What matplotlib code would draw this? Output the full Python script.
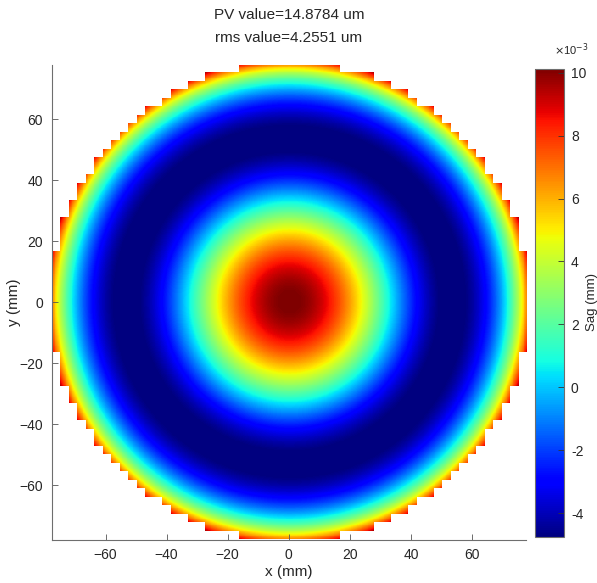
import numpy as np
import matplotlib.pyplot as plt

plt.rcParams['font.family'] = ['Liberation Sans', 'DejaVu Sans']

# radial sag profile (radius in mm, sag in mm)
radius_mm = [0.0, 6.7, 14.3, 20.5, 24.2, 28.7, 32.4, 36.2, 40.5, 46.0, 52.0,
             58.0, 64.6, 68.9, 71.7, 73.6, 75.8, 77.2, 78.5, 80.0]
sag_mm = np.array([10.12, 9.5, 8.26, 6.4, 4.54, 2.68, 0.82, -1.0, -2.9, -4.3, -4.76,
                   -4.3, -2.9, -1.0, 0.82, 2.68, 4.54, 6.4, 8.0, 9.6]) * 1e-3

half_width = 77.7     # axis extent (mm)
n_nodes = 57          # sampling grid of the map
aperture = 80.0       # mask radius (mm)

pv_text = 'PV value=14.8784 um'
rms_text = 'rms value=4.2551 um'
sag_min, sag_max = -4.76e-3, 10.12e-3
axis_ticks = [-60, -40, -20, 0, 20, 40, 60]
cbar_ticks = [-4, -2, 0, 2, 4, 6, 8, 10]

# smooth profile through the read values
u = (np.array(radius_mm) / aperture) ** 2
coef = np.polyfit(u, sag_mm, 5)

# coarse grid mask (a cell is shown if its 4 corner nodes are inside)
nodes = np.linspace(-half_width, half_width, n_nodes)
NX, NY = np.meshgrid(nodes, nodes)
node_ok = NX**2 + NY**2 <= aperture**2
cell_ok = node_ok[:-1, :-1] & node_ok[1:, :-1] & node_ok[:-1, 1:] & node_ok[1:, 1:]

sub = 10
cells = n_nodes - 1
h = nodes[1] - nodes[0]
fine = -half_width + (np.arange(cells * sub) + 0.5) * h / sub
FX, FY = np.meshgrid(fine, fine)
Z = np.polyval(coef, (FX**2 + FY**2) / aperture**2)
mask = np.repeat(np.repeat(~cell_ok, sub, axis=0), sub, axis=1)
Z = np.ma.masked_array(Z, mask)

W, H = 597, 583
fig = plt.figure(figsize=(W / 100, H / 100), dpi=100)
ax = fig.add_axes([51.5 / W, (H - 539.5) / H, 474.5 / W, 474.5 / H])
im = ax.imshow(Z, origin='lower', cmap='jet', vmin=sag_min, vmax=sag_max,
               extent=[-half_width, half_width, -half_width, half_width],
               interpolation='nearest')
ax.set_xlim(-half_width, half_width)
ax.set_ylim(-half_width, half_width)
ax.set_xticks(axis_ticks)
ax.set_yticks(axis_ticks)
ax.tick_params(direction='in', length=4.5, width=0.6, colors='#555555',
               labelcolor='#262626', labelsize=10, pad=6)
for s in ['top', 'right']:
    ax.spines[s].set_visible(False)
for s in ['left', 'bottom']:
    ax.spines[s].set_color('#6e6e6e')
    ax.spines[s].set_linewidth(0.8)
ax.set_xlabel('x (mm)', fontsize=11, color='#262626', labelpad=2)
ax.set_ylabel('y (mm)', fontsize=11, color='#262626', labelpad=-1)

cx = (51.5 + 474.5 / 2) / W
fig.text(cx, 1 - 15 / H, pv_text, ha='center', va='center', fontsize=11, color='#262626')
fig.text(cx, 1 - 38 / H, rms_text, ha='center', va='center', fontsize=11, color='#262626')

cax = fig.add_axes([535 / W, (H - 537) / H, 29 / W, 468 / H])
cb = fig.colorbar(im, cax=cax)
cb.set_ticks([t * 1e-3 for t in cbar_ticks])
cb.set_ticklabels([str(t) for t in cbar_ticks])
cb.outline.set_edgecolor('#6e6e6e')
cb.outline.set_linewidth(0.8)
cax.tick_params(direction='in', length=4, width=0.6, colors='#333333',
                labelcolor='#262626', labelsize=10, pad=5)
fig.text(571 / W, 1 - 50 / H, r'$\times$10$^{-3}$', ha='center', va='center',
         fontsize=8, color='#262626')
fig.text(591.5 / W, 1 - 302 / H, 'Sag (mm)', rotation=90, ha='center', va='center',
         fontsize=9.5, color='#262626')

fig.savefig('out.png', dpi=100)
